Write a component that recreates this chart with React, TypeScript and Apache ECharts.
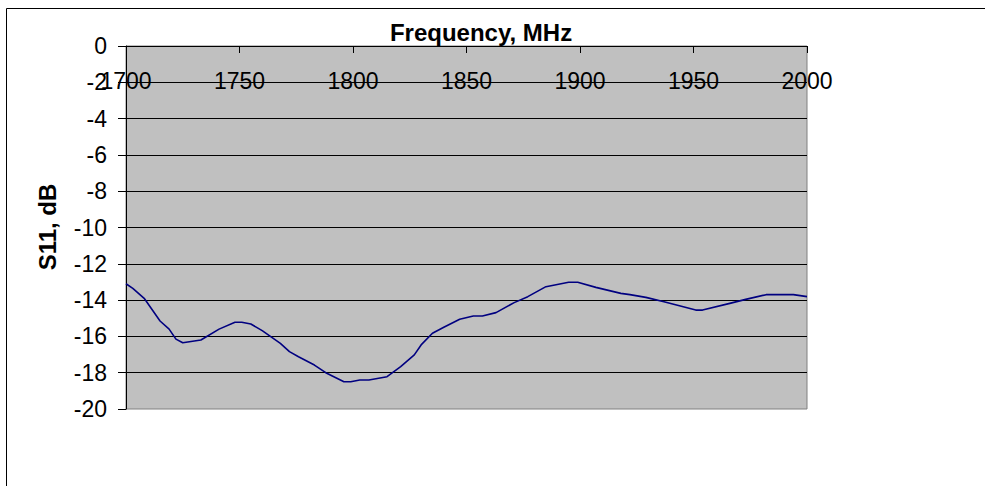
import React, { useEffect, useRef } from "react";
import * as echarts from "echarts";

const freqs = [
  1700, 1703, 1708, 1715, 1719, 1722, 1725, 1733, 1741, 1748, 1751, 1755, 1760, 1768, 1772, 1776,
  1783, 1788, 1796, 1799, 1803, 1807, 1815, 1821, 1827, 1830, 1835, 1840, 1847, 1853, 1857, 1863,
  1871, 1877, 1885, 1895, 1899, 1907, 1918, 1922, 1929, 1937, 1951, 1954, 1966, 1973, 1982, 1994, 2000,
];
const s11 = [
  -13.1, -13.35, -13.9, -15.15, -15.6, -16.15, -16.35, -16.2, -15.6, -15.22, -15.22, -15.32, -15.68,
  -16.38, -16.84, -17.12, -17.58, -18.0, -18.5, -18.5, -18.4, -18.4, -18.22, -17.67, -17.02, -16.47,
  -15.83, -15.5, -15.06, -14.88, -14.88, -14.69, -14.14, -13.81, -13.26, -13.02, -13.02, -13.3,
  -13.63, -13.7, -13.85, -14.09, -14.55, -14.55, -14.18, -13.96, -13.7, -13.7, -13.81,
];
const xTitle = "Frequency, MHz";
const yTitle = "S11, dB";

const FONT = "'Liberation Sans', Arial, sans-serif";

export default function App() {
  const ref = useRef<HTMLDivElement>(null);
  useEffect(() => {
    if (!ref.current) return;
    const chart = echarts.init(ref.current, undefined, { renderer: "svg" });
    const data = freqs.map((f, i) => [f, s11[i]]);
    chart.setOption({
      animation: false,
      backgroundColor: "#ffffff",
      grid: {
        left: 126,
        top: 46,
        width: 681,
        height: 363,
        show: true,
        backgroundColor: "#C0C0C0",
        borderColor: "#808080",
        borderWidth: 1,
      },
      xAxis: {
        type: "value",
        position: "top",
        min: 1700,
        max: 2000,
        interval: 50,
        axisLine: { show: true, onZero: false, lineStyle: { color: "#000", width: 1 } },
        axisTick: { show: true, inside: true, length: 7, lineStyle: { color: "#000" } },
        axisLabel: {
          inside: true,
          margin: 23,
          color: "#000",
          fontSize: 23,
          fontFamily: FONT,
          formatter: (v: number) => String(v),
        },
        splitLine: { show: false },
      },
      yAxis: {
        type: "value",
        min: -20,
        max: 0,
        interval: 2,
        axisLine: { show: true, onZero: false, lineStyle: { color: "#000", width: 1 } },
        axisTick: { show: true, inside: false, length: 8, lineStyle: { color: "#000" } },
        axisLabel: {
          margin: 19,
          color: "#000",
          fontSize: 23,
          fontFamily: FONT,
          formatter: (v: number) => String(v),
        },
        splitLine: {
          show: true,
          showMinLine: false,
          lineStyle: { color: "#000", width: 1 },
        },
      },
      series: [
        {
          type: "line",
          data,
          showSymbol: false,
          symbol: "none",
          lineStyle: { color: "#000080", width: 1.6 },
          z: 5,
        },
      ],
      graphic: [
        {
          type: "rect",
          shape: { x: 6.5, y: 8.5, width: 1100, height: 600 },
          style: { fill: "none", stroke: "#000", lineWidth: 1 },
          silent: true,
          z: 0,
        },
        {
          type: "text",
          x: 481,
          y: 32,
          style: {
            text: xTitle,
            fontSize: 24,
            fontWeight: "bold",
            fontFamily: FONT,
            fill: "#000",
            textAlign: "center",
            textVerticalAlign: "middle",
          },
        },
        {
          type: "text",
          x: 47,
          y: 227,
          rotation: Math.PI / 2,
          style: {
            text: yTitle,
            fontSize: 24,
            fontWeight: "bold",
            fontFamily: FONT,
            fill: "#000",
            textAlign: "center",
            textVerticalAlign: "middle",
          },
        },
      ],
    });
    return () => chart.dispose();
  }, []);
  return (
    <div
      ref={ref}
      style={{ position: "fixed", left: 0, top: 0, width: 985, height: 486, background: "#fff" }}
    />
  );
}
